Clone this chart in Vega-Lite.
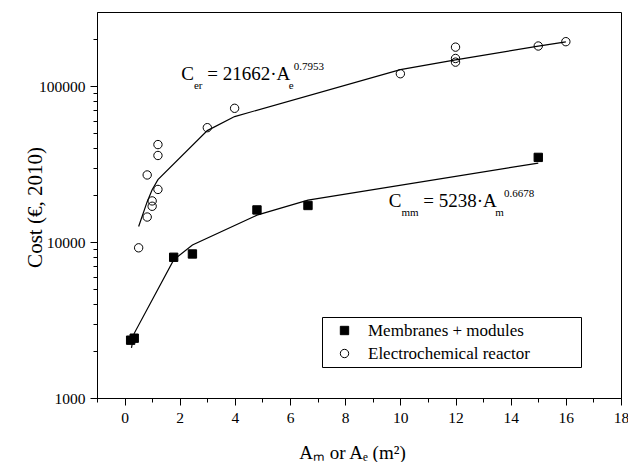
{
  "$schema": "https://vega.github.io/schema/vega-lite/v6.json",
  "width": 524,
  "height": 386,
  "autosize": "none",
  "padding": {"left": 97, "top": 12, "right": 7, "bottom": 64},
  "background": "white",
  "config": {
    "font": "Liberation Serif",
    "view": {"stroke": "black", "strokeWidth": 1},
    "axis": {"grid": false, "domainColor": "black", "tickColor": "black", "labelColor": "black", "titleColor": "black", "labelFont": "Liberation Serif", "titleFont": "Liberation Serif", "titleFontWeight": "normal", "labelFontSize": 15.5, "titleFontSize": 19, "tickSize": 7, "domainWidth": 1, "tickWidth": 1},
    "legend": {"labelFont": "Liberation Serif", "titleFont": "Liberation Serif"}
  },
  "datasets": {
    "points": [
      {"x": 0.22, "y": 2350, "s": "Membranes + modules"},
      {"x": 0.35, "y": 2420, "s": "Membranes + modules"},
      {"x": 1.78, "y": 8000, "s": "Membranes + modules"},
      {"x": 2.46, "y": 8400, "s": "Membranes + modules"},
      {"x": 4.8, "y": 16100, "s": "Membranes + modules"},
      {"x": 6.65, "y": 17200, "s": "Membranes + modules"},
      {"x": 15.0, "y": 35000, "s": "Membranes + modules"},
      {"x": 0.51, "y": 9200, "s": "Electrochemical reactor"},
      {"x": 0.82, "y": 14500, "s": "Electrochemical reactor"},
      {"x": 1.0, "y": 17000, "s": "Electrochemical reactor"},
      {"x": 1.0, "y": 18400, "s": "Electrochemical reactor"},
      {"x": 1.21, "y": 21800, "s": "Electrochemical reactor"},
      {"x": 0.82, "y": 27000, "s": "Electrochemical reactor"},
      {"x": 1.21, "y": 36000, "s": "Electrochemical reactor"},
      {"x": 1.21, "y": 42300, "s": "Electrochemical reactor"},
      {"x": 3.0, "y": 54300, "s": "Electrochemical reactor"},
      {"x": 3.99, "y": 72300, "s": "Electrochemical reactor"},
      {"x": 10.0, "y": 120500, "s": "Electrochemical reactor"},
      {"x": 12.0, "y": 143000, "s": "Electrochemical reactor"},
      {"x": 12.0, "y": 151000, "s": "Electrochemical reactor"},
      {"x": 12.0, "y": 178500, "s": "Electrochemical reactor"},
      {"x": 15.0, "y": 181500, "s": "Electrochemical reactor"},
      {"x": 16.0, "y": 193500, "s": "Electrochemical reactor"}
    ],
    "fits": [
      {"x": 0.25, "y": 2100, "s": "mm"},
      {"x": 0.35, "y": 2600, "s": "mm"},
      {"x": 1.78, "y": 7700, "s": "mm"},
      {"x": 2.46, "y": 9600, "s": "mm"},
      {"x": 4.8, "y": 14900, "s": "mm"},
      {"x": 6.65, "y": 18600, "s": "mm"},
      {"x": 15.0, "y": 32200, "s": "mm"},
      {"x": 0.51, "y": 12600, "s": "er"},
      {"x": 0.82, "y": 18200, "s": "er"},
      {"x": 1.0, "y": 21700, "s": "er"},
      {"x": 1.21, "y": 25200, "s": "er"},
      {"x": 3.0, "y": 52000, "s": "er"},
      {"x": 3.99, "y": 64000, "s": "er"},
      {"x": 10.0, "y": 128000, "s": "er"},
      {"x": 12.0, "y": 148000, "s": "er"},
      {"x": 15.0, "y": 181000, "s": "er"},
      {"x": 16.0, "y": 193000, "s": "er"}
    ],
    "eq": [
      {"x": 2.057, "y": 109300, "t": "C", "part": "main"},
      {"x": 2.515, "y": 109300, "t": "er", "part": "sub"},
      {"x": 2.999, "y": 109300, "t": "= 21662·A", "part": "main"},
      {"x": 5.954, "y": 109300, "t": "e", "part": "sub"},
      {"x": 6.132, "y": 109300, "t": "0.7953", "part": "sup"},
      {"x": 9.579, "y": 16750, "t": "C", "part": "main"},
      {"x": 10.04, "y": 16750, "t": "mm", "part": "sub"},
      {"x": 10.83, "y": 16750, "t": "= 5238·A", "part": "main"},
      {"x": 13.44, "y": 16750, "t": "m", "part": "sub"},
      {"x": 13.755, "y": 16750, "t": "0.6678", "part": "sup"}
    ]
  },
  "encoding": {
    "x": {
      "field": "x", "type": "quantitative",
      "scale": {"domain": [-1, 18], "nice": false, "zero": false},
      "axis": {
        "title": "Aₘ or Aₑ (m²)",
        "values": [-1, 0, 1, 2, 3, 4, 5, 6, 7, 8, 9, 10, 11, 12, 13, 14, 15, 16, 17, 18],
        "labelExpr": "datum.value % 2 == 0 && datum.value >= 0 ? datum.label : ''",
        "tickDash": {"condition": {"test": "datum.value % 2 == 0 && datum.value >= 0", "value": [10, 0]}, "value": [4, 20]},
        "labelPadding": 5,
        "labelFlush": false,
        "labelFont": "Liberation Serif",
        "titleX": 255,
        "titleY": 60,
        "titleBaseline": "alphabetic"
      }
    },
    "y": {
      "field": "y", "type": "quantitative",
      "scale": {"type": "log", "domain": [1000, 300000], "nice": false},
      "axis": {
        "title": "Cost (€, 2010)",
        "titleFontSize": 21,
        "values": [1000, 2000, 3000, 4000, 5000, 6000, 7000, 8000, 9000, 10000, 20000, 30000, 40000, 50000, 60000, 70000, 80000, 90000, 100000, 200000],
        "format": "d",
        "labelExpr": "datum.value == 1000 || datum.value == 10000 || datum.value == 100000 ? datum.label : ''",
        "tickDash": {"condition": {"test": "datum.value == 1000 || datum.value == 10000 || datum.value == 100000", "value": [10, 0]}, "value": [4, 20]},
        "labelPadding": 5,
        "labelFlush": false,
        "labelFont": "Liberation Serif",
        "titleX": -56,
        "titleY": 195,
        "titleBaseline": "alphabetic"
      }
    }
  },
  "layer": [
    {
      "data": {"name": "fits"},
      "mark": {"type": "line", "color": "black", "strokeWidth": 1.2},
      "encoding": {"detail": {"field": "s", "type": "nominal"}}
    },
    {
      "data": {"name": "points"},
      "mark": {"type": "point", "filled": false, "color": "black", "strokeWidth": 1, "size": 70, "opacity": 1},
      "encoding": {
        "shape": {
          "field": "s", "type": "nominal",
          "scale": {"domain": ["Membranes + modules", "Electrochemical reactor"], "range": ["square", "circle"]},
          "legend": {
            "orient": "none", "legendX": 225, "legendY": 305,
            "title": "MM", "titleOrient": "right", "titleOpacity": 0, "titleFontSize": 20.5, "titlePadding": 7,
            "padding": 5, "strokeColor": "black", "fillColor": "white",
            "symbolOffset": 9, "labelOffset": 15, "rowPadding": 5, "labelLimit": 400,
            "labelFontSize": 17, "labelFont": "Liberation Serif", "labelColor": "black",
            "symbolSize": 70, "symbolStrokeColor": "black", "symbolStrokeWidth": 1
          }
        },
        "fill": {
          "field": "s", "type": "nominal",
          "scale": {"domain": ["Membranes + modules", "Electrochemical reactor"], "range": ["black", "transparent"]}
        },
        "stroke": {
          "field": "s", "type": "nominal",
          "scale": {"domain": ["Membranes + modules", "Electrochemical reactor"], "range": ["black", "black"]}
        }
      }
    },
    {
      "data": {"name": "eq"},
      "transform": [{"filter": "datum.part == 'main'"}],
      "mark": {"type": "text", "align": "left", "baseline": "alphabetic", "fontSize": 19, "font": "Liberation Serif", "color": "black"},
      "encoding": {"text": {"field": "t"}}
    },
    {
      "data": {"name": "eq"},
      "transform": [{"filter": "datum.part == 'sub'"}],
      "mark": {"type": "text", "align": "left", "baseline": "alphabetic", "fontSize": 11, "dy": 9, "font": "Liberation Serif", "color": "black"},
      "encoding": {"text": {"field": "t"}}
    },
    {
      "data": {"name": "eq"},
      "transform": [{"filter": "datum.part == 'sup'"}],
      "mark": {"type": "text", "align": "left", "baseline": "alphabetic", "fontSize": 11, "dy": -10, "font": "Liberation Serif", "color": "black"},
      "encoding": {"text": {"field": "t"}}
    }
  ]
}
